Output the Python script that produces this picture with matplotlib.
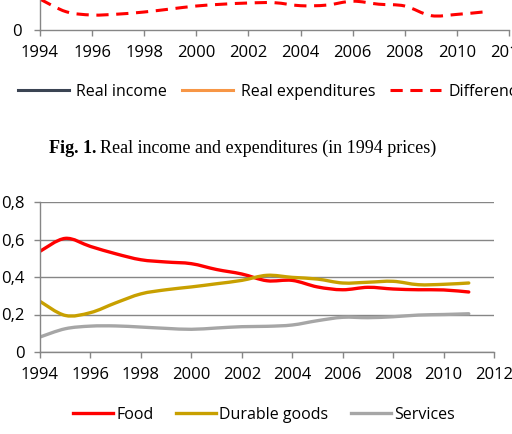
import numpy as np
import matplotlib
matplotlib.use('Agg')
from matplotlib import pyplot as plt
from matplotlib.path import Path
from matplotlib.patches import PathPatch
from matplotlib.lines import Line2D
from matplotlib.ticker import FuncFormatter

W, H = 512, 434

years = list(range(1994, 2012))

# top chart (only its bottom strip is visible)
difference = [103, 61, 50, 53, 60, 70, 80, 86, 90, 91, 81, 83, 96, 86, 80, 48, 52, 60]

# bottom chart: expenditure shares
food = [0.537, 0.606, 0.563, 0.524, 0.492, 0.48, 0.471, 0.44, 0.416, 0.38,
        0.382, 0.347, 0.332, 0.345, 0.336, 0.332, 0.331, 0.32]
durable = [0.27, 0.195, 0.21, 0.262, 0.31, 0.332, 0.347, 0.364, 0.382, 0.409,
           0.398, 0.389, 0.368, 0.372, 0.377, 0.359, 0.361, 0.368]
services = [0.08, 0.124, 0.138, 0.139, 0.133, 0.126, 0.121, 0.128, 0.135, 0.137,
            0.144, 0.167, 0.185, 0.183, 0.188, 0.197, 0.2, 0.204]

FONT = 'Open Sans'
AX_COL = '#868686'
FS = 11.5
TICK_FS = 12


def smooth_path(x, y):
    # Excel-style smoothed line: Catmull-Rom segments as cubic Beziers
    p = np.column_stack([x, y]).astype(float)
    ext = np.vstack([p[0], p, p[-1]])
    verts = [p[0]]
    codes = [Path.MOVETO]
    for i in range(len(p) - 1):
        p0, p1, p2, p3 = ext[i], ext[i + 1], ext[i + 2], ext[i + 3]
        verts += [p1 + (p2 - p0) / 6, p2 - (p3 - p1) / 6, p2]
        codes += [Path.CURVE4] * 3
    return Path(verts, codes)


def style_axes(ax):
    for s in ['top', 'right']:
        ax.spines[s].set_visible(False)
    for s in ['left', 'bottom']:
        ax.spines[s].set_color(AX_COL)
        ax.spines[s].set_linewidth(1.0)
    ax.tick_params(colors=AX_COL, labelcolor='black', length=4, width=1.0,
                   labelsize=TICK_FS, pad=7)
    for lab in ax.get_xticklabels() + ax.get_yticklabels():
        lab.set_fontfamily(FONT)


fig = plt.figure(figsize=(W / 100, H / 100), dpi=100)

# ---- top chart (cropped)
ax1 = fig.add_axes([40 / W, 1 - 30 / H, (509 - 40) / W, 30 / H])
ax1.add_patch(PathPatch(smooth_path(years, difference), fill=False,
                        edgecolor='#FF0000', lw=2.2, linestyle=(0, (4, 2.5))))
ax1.set_xlim(1994, 2012)
ax1.set_ylim(0, 100)
ax1.set_xticks(range(1994, 2013, 2))
ax1.set_yticks([0])
ax1.yaxis.set_major_formatter(FuncFormatter(lambda v, p: '0'))
style_axes(ax1)
ax1.tick_params(axis='y', pad=9)

h1 = [Line2D([], [], color='#3B4453', lw=2.2),
      Line2D([], [], color='#F79646', lw=2.2),
      Line2D([], [], color='#FF0000', lw=2.2, linestyle=(0, (4, 2.5)))]
fig.legend(h1, ['Real income', 'Real expenditures', 'Difference'],
           loc='center left', bbox_to_anchor=(10 / W, 1 - 92 / H), ncol=3,
           frameon=False, handlelength=3.2, handletextpad=0.45,
           columnspacing=0.95, borderpad=0,
           prop={'family': FONT, 'size': FS})

# ---- caption: bold "Fig. 1." followed by plain text
cap_y = 1 - 148 / H
t1 = fig.text(49 / W, cap_y, 'Fig. 1.', ha='left', va='center',
              family='Liberation Serif', weight='bold', size=13)
fig.canvas.draw()
x_end = t1.get_window_extent().x1 / W
fig.text(x_end + 4 / W, cap_y, 'Real income and expenditures (in 1994 prices)',
         ha='left', va='center', family='Liberation Serif', size=13)

# ---- bottom chart
ax2 = fig.add_axes([40 / W, 1 - 352 / H, (494 - 40) / W, 150 / H])
ax2.set_xlim(1994, 2012)
ax2.set_ylim(0, 0.8)
ax2.set_xticks(range(1994, 2013, 2))
ax2.set_yticks([0, 0.2, 0.4, 0.6, 0.8])
ax2.yaxis.set_major_formatter(
    FuncFormatter(lambda v, p: '0' if v == 0 else ('%.1f' % v).replace('.', ',')))
ax2.grid(axis='y', color=AX_COL, lw=1.0)
ax2.set_axisbelow(True)
style_axes(ax2)

series = [(food, '#FF0000', 'Food'),
          (durable, '#C8A000', 'Durable goods'),
          (services, '#A6A6A6', 'Services')]
h2 = []
for vals, col, lab in series:
    ax2.add_patch(PathPatch(smooth_path(years, vals), fill=False,
                            edgecolor=col, lw=2.4, capstyle='round',
                            joinstyle='round'))
    h2.append(Line2D([], [], color=col, lw=2.4))

fig.legend(h2, [s[2] for s in series], loc='center',
           bbox_to_anchor=(264 / W, 1 - 415 / H), ncol=3, frameon=False,
           handlelength=2.5, handletextpad=0.2, columnspacing=1.4,
           borderpad=0, prop={'family': FONT, 'size': FS})

fig.savefig('out.png', dpi=100)
